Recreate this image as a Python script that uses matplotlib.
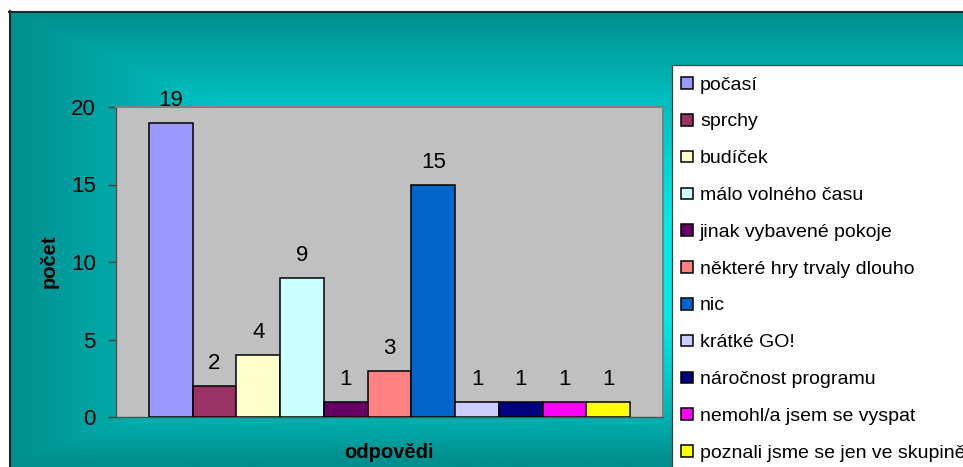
import numpy as np
import matplotlib
matplotlib.use("Agg")
import matplotlib.pyplot as plt
from matplotlib.patches import Rectangle
from matplotlib.lines import Line2D

plt.rcParams['font.family'] = ['Liberation Sans', 'DejaVu Sans']

categories = ['počasí', 'sprchy', 'budíček', 'málo volného času',
              'jinak vybavené pokoje', 'některé hry trvaly dlouho', 'nic',
              'krátké GO!', 'náročnost programu', 'nemohl/a jsem se vyspat',
              'poznali jsme se jen ve skupině']
values = [19, 2, 4, 9, 1, 3, 15, 1, 1, 1, 1]
colors = ['#9999FF', '#993366', '#FFFFCC', '#CCFFFF', '#660066', '#FF8080',
          '#0066CC', '#CCCCFF', '#000080', '#FF00FF', '#FFFF00']
y_ticks = [0, 5, 10, 15, 20]

W, H = 963, 467


def fx(x):
    return x / W


def fy(y):
    return 1 - y / H


fig = plt.figure(figsize=(W / 100, H / 100), dpi=100, facecolor='white')

# teal chart area with a "from centre" gradient
bg = fig.add_axes([fx(9), 0, fx(W - 9), (H - 11) / H], zorder=0)
bg.axis('off')
xs = np.arange(9, W) + 0.5
ys = np.arange(11, H) + 0.5
X, Y = np.meshgrid(xs, ys)
tx = np.where(X < 470, (470 - X) / 461, np.where(X > 700, (X - 700) / 400, 0))
ty = np.where(Y < 220, (220 - Y) / 209, np.where(Y > 320, (Y - 320) / 141, 0))
t = np.clip(np.maximum(tx, ty), 0, 1)
g = np.interp(t, [0, 0.3, 0.6, 0.8, 1.0], [232, 212, 188, 165, 142]) / 255
img = np.dstack([np.zeros_like(g), g, g])
bg.imshow(img, aspect='auto', extent=[0, 1, 0, 1], interpolation='bilinear')
bg.set_xlim(0, 1)
bg.set_ylim(0, 1)

fig.add_artist(Line2D([fx(9), fx(W)], [fy(11.5), fy(11.5)], color='#1C2B2B', lw=1.5, zorder=1))
fig.add_artist(Line2D([fx(9.5), fx(9.5)], [fy(11), 0], color='#1C2B2B', lw=1.5, zorder=1))

# plot area
ax = fig.add_axes([fx(116), fy(417), fx(663 - 116), (417 - 107) / H], zorder=2)
ax.set_facecolor('#C0C0C0')
x = np.arange(len(values))
ax.bar(x, values, width=1.0, color=colors, edgecolor='black', linewidth=1.1, zorder=3)
for xi, v in zip(x, values):
    ax.annotate(str(v), (xi, v), xytext=(0, 12), textcoords='offset points',
                ha='center', va='baseline', fontsize=16, color='black',
                annotation_clip=False)

ax.set_xlim(-1.25, len(values) + 0.25)
ax.set_ylim(0, 20)
ax.set_yticks(y_ticks)
ax.set_xticks([])
ax.tick_params(axis='y', direction='out', length=6, width=1, color='#404040',
               pad=8.5, labelsize=16, labelcolor='black')
for side in ['top', 'right']:
    ax.spines[side].set_color('#808080')
    ax.spines[side].set_linewidth(1.5)
for side in ['left', 'bottom']:
    ax.spines[side].set_color('#505050')
    ax.spines[side].set_linewidth(1)

fig.text(fx(49), fy(261), 'počet', rotation=90, ha='center', va='center',
         fontsize=14.5, fontweight='bold', zorder=3)
fig.text(fx(389), fy(452), 'odpovědi', ha='center', va='center',
         fontsize=14.5, fontweight='bold', zorder=3)

# legend box running off the chart edge
fig.add_artist(Rectangle((fx(672), fy(520)), fx(400), (520 - 65) / H,
                         transform=fig.transFigure, facecolor='white',
                         edgecolor='#404040', lw=0.9, zorder=3))
sq = 11.5
for i, (name, c) in enumerate(zip(categories, colors)):
    yc = 83 + 36.8 * i
    fig.add_artist(Rectangle((fx(681), fy(yc + sq / 2)), sq / W, sq / H,
                             transform=fig.transFigure, facecolor=c,
                             edgecolor='black', lw=1.1, zorder=4))
    fig.text(fx(700), fy(yc), name, ha='left', va='center_baseline',
             fontsize=14, color='black', zorder=4)

fig.savefig('out.png', dpi=100, facecolor='white')
